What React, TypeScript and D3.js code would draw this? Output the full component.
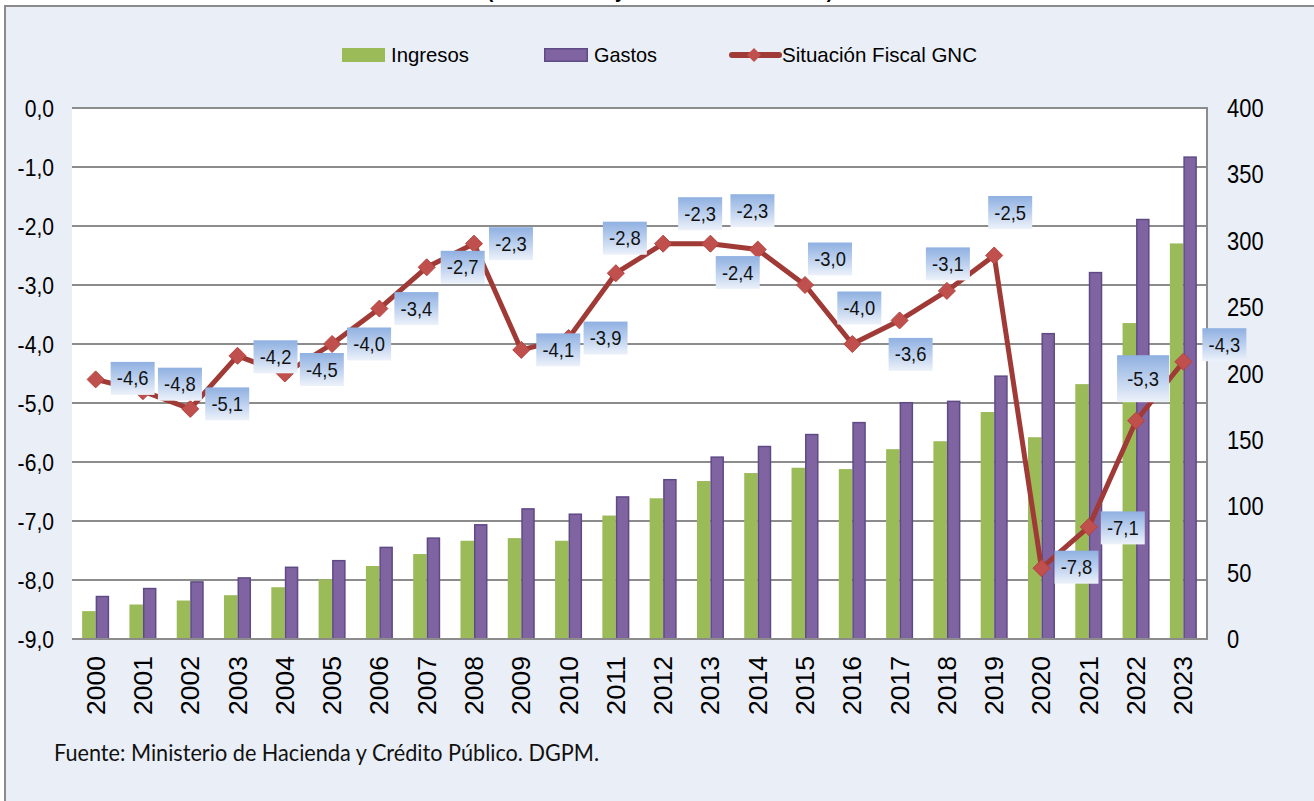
import React from 'react';
import * as d3 from 'd3';

const years = ['2000','2001','2002','2003','2004','2005','2006','2007','2008','2009','2010','2011','2012','2013','2014','2015','2016','2017','2018','2019','2020','2021','2022','2023'];
const ingresos = [21,26,29,33,39,45,55,64,74,76,74,93,106,119,125,129,128,143,149,171,152,192,238,298];
const gastos = [32,38,43,46,54,59,69,76,86,98,94,107,120,137,145,154,163,178,179,198,230,276,316,363];
const situacion = [-4.6,-4.8,-5.1,-4.2,-4.5,-4.0,-3.4,-2.7,-2.3,-4.1,-3.9,-2.8,-2.3,-2.3,-2.4,-3.0,-4.0,-3.6,-3.1,-2.5,-7.8,-7.1,-5.3,-4.3];
const leftTicks = [0,-1,-2,-3,-4,-5,-6,-7,-8,-9];
const rightTicks = [0,50,100,150,200,250,300,350,400];
const seriesNames = ['Ingresos','Gastos','Situación Fiscal GNC'];
const titleText = '(En % del PIB y millones de córdobas)';
const sourceText = 'Fuente: Ministerio de Hacienda y Crédito Público. DGPM.';

// label placement (box centre offset from its point), layout only
const labelOffsets: [number, number][] = [
  [37,-1],[37,-7],[37,-5],[38,1],[37,-4],[37,0],[37,0],[36,0],[37,0],[37,0],[37,0],[9,-35],
  [37,-30],[42,-33],[-20,23],[25,-26],[7,-36],[11,34],[1,-27],[16,-43],[35,-1],[34,1],[7,-42],[41,-17]
];

const W = 1314, H = 801;
const PL = 72, PR = 1207, PT = 108, PB = 639;
const FONT = '"Liberation Sans", Arial, sans-serif';
const fmt = (v: number) => d3.format('.1f')(v).replace('.', ',').replace('−', '-');

export default function App() {
  const x = d3.scaleBand<string>().domain(years).range([PL, PR]).padding(0);
  const bw = x.bandwidth();
  const barW = 13.5;
  const sub = d3.scaleBand<string>().domain(['Ingresos','Gastos']).range([bw/2 - barW, bw/2 + barW]).padding(0);
  const yL = d3.scaleLinear().domain([-9, 0]).range([PB, PT]);
  const yR = d3.scaleLinear().domain([0, 400]).range([PB, PT]);
  const cx = (i: number) => (x(years[i]) as number) + bw / 2;
  const line = d3.line<number>().x((_, i) => cx(i)).y(d => yL(d));
  const diamond = (px: number, py: number, r: number) => `M${px},${py-r}L${px+r},${py}L${px},${py+r}L${px-r},${py}Z`;

  return (
    <svg width={W} height={H} style={{ position: 'absolute', left: 0, top: 0, display: 'block' }} fontFamily={FONT}>
      <defs>
        <linearGradient id="lblGrad" x1="0" y1="0" x2="0" y2="1">
          <stop offset="0" stopColor="#8FB0E1" />
          <stop offset="0.5" stopColor="#BCD0EE" />
          <stop offset="1" stopColor="#EDF2FA" />
        </linearGradient>
      </defs>
      <rect x={0} y={0} width={W} height={H} fill="#ffffff" />
      <text x={660} y={-2} textAnchor="middle" fontSize={20} fontWeight="bold" textLength={346} lengthAdjust="spacingAndGlyphs" fill="#000">{titleText}</text>
      <rect x={5} y={6} width={W + 10} height={H + 10} fill="#EAEEF6" stroke="#8A8A8A" strokeWidth={2} />
      <rect x={PL} y={PT} width={PR - PL} height={PB - PT} fill="#ffffff" />
      {/* gridlines */}
      {leftTicks.map(t => (
        <line key={'g' + t} x1={PL} x2={PR} y1={yL(t)} y2={yL(t)} stroke="#8C8C8C" strokeWidth={2} />
      ))}
      {/* bars */}
      {years.map((yr, i) => (
        <g key={'b' + yr}>
          <rect x={(x(yr) as number) + (sub('Ingresos') as number)} y={yR(ingresos[i])} width={sub.bandwidth()} height={yR(0) - yR(ingresos[i])} fill="#9BBB59" />
          <rect x={(x(yr) as number) + (sub('Gastos') as number) + 0.75} y={yR(gastos[i])} width={sub.bandwidth() - 1.5} height={yR(0) - yR(gastos[i])} fill="#8064A2" stroke="#5E4A85" strokeWidth={1.5} />
        </g>
      ))}
      {/* axes lines */}
      <line x1={PL} x2={PR} y1={PB} y2={PB} stroke="#8C8C8C" strokeWidth={2} />
      <line x1={PR} x2={PR} y1={PT - 1} y2={PB + 1} stroke="#8C8C8C" strokeWidth={2} />
      {/* line series */}
      <path d={line(situacion) || ''} fill="none" stroke="#A03A36" strokeWidth={5} strokeLinejoin="round" />
      {situacion.map((v, i) => (
        <path key={'m' + i} d={diamond(cx(i), yL(v), 8.5)} fill="#C0504D" stroke="#B7413E" strokeWidth={1} />
      ))}
      {/* data labels */}
      {situacion.map((v, i) => {
        const [dx, dy] = labelOffsets[i];
        const big = i === 22;
        const w = big ? 52 : 44, h = big ? 47 : 33;
        const bx = cx(i) + dx, by = yL(v) + dy;
        return (
          <g key={'l' + i}>
            <rect x={bx - w / 2} y={by - h / 2} width={w} height={h} fill="url(#lblGrad)" />
            <text transform={`translate(${bx},${by + 7}) scale(0.92,1)`} textAnchor="middle" fontSize={20} fill="#111">{fmt(v)}</text>
          </g>
        );
      })}
      {/* left axis labels */}
      {leftTicks.map(t => (
        <text key={'lt' + t} transform={`translate(54,${yL(t) + 8.5}) scale(0.88,1)`} textAnchor="end" fontSize={24} fill="#000">{fmt(t)}</text>
      ))}
      {/* right axis labels */}
      {rightTicks.map(t => (
        <text key={'rt' + t} transform={`translate(1227,${yR(t) + 9}) scale(0.86,1)`} textAnchor="start" fontSize={25.5} fill="#000">{t}</text>
      ))}
      {/* year labels */}
      {years.map((yr, i) => (
        <text key={'y' + yr} transform={`translate(${cx(i) + 9},656) rotate(-90)`} textAnchor="end" fontSize={25} fill="#000" textLength={59} lengthAdjust="spacingAndGlyphs">{yr}</text>
      ))}
      {/* legend */}
      <rect x={342} y={48} width={43} height={14} fill="#9BBB59" />
      <text x={391} y={62} fontSize={21} fill="#000" textLength={78} lengthAdjust="spacingAndGlyphs">{seriesNames[0]}</text>
      <rect x={544.75} y={48.75} width={42.5} height={12.5} fill="#8064A2" stroke="#5E4A85" strokeWidth={1.5} />
      <text x={594} y={62} fontSize={21} fill="#000" textLength={63} lengthAdjust="spacingAndGlyphs">{seriesNames[1]}</text>
      <line x1={732} x2={779} y1={55} y2={55} stroke="#A03A36" strokeWidth={6} strokeLinecap="round" />
      <path d={diamond(754, 55, 7)} fill="#C0504D" />
      <text x={782} y={62} fontSize={21} fill="#000" textLength={195} lengthAdjust="spacingAndGlyphs">{seriesNames[2]}</text>
      {/* source */}
      <text x={54} y={761} fontFamily="Lato, 'Open Sans', sans-serif" fontSize={23} fill="#111" textLength={545} lengthAdjust="spacingAndGlyphs">{sourceText}</text>
    </svg>
  );
}
